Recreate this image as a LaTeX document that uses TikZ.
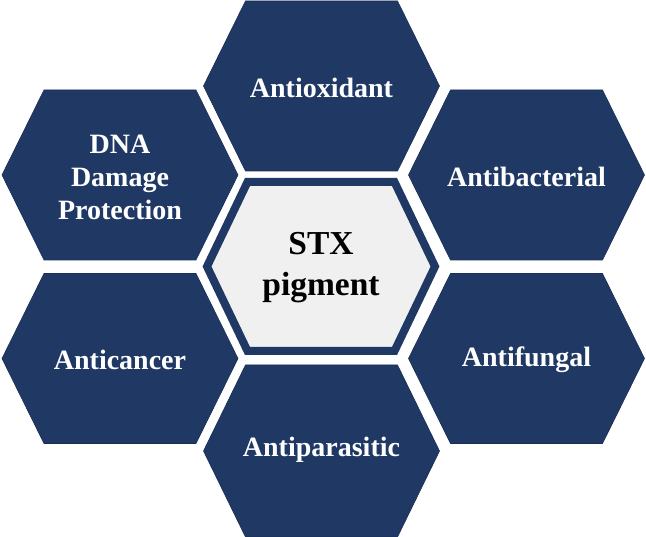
\documentclass[tikz,border=0pt]{standalone}
\usepackage{fontspec}
\setmainfont{Liberation Serif}
\definecolor{navy}{HTML}{1F3864}
\definecolor{navyedge}{HTML}{1A2F55}
\definecolor{lightfill}{HTML}{F0F0F0}
\tikzset{
  hexfill/.style={fill=navy, draw=navyedge, line width=0.6pt, line join=miter},
  hexcenter/.style={fill=lightfill, draw=navy, line width=8pt, line join=miter},
  hexlabel/.style={text=white, font=\bfseries\fontsize{28}{33}\selectfont, align=center, inner sep=0pt},
  centerlabel/.style={text=black, font=\bfseries\fontsize{33.5}{41}\selectfont, align=center, inner sep=0pt}
}
\newcommand{\hexpath}[5]{% x, y, halfwidth, halfheight, slant
  (#1-#3,#2) -- (#1-#3+#5,#2-#4) -- (#1+#3-#5,#2-#4) -- (#1+#3,#2) -- (#1+#3-#5,#2+#4) -- (#1-#3+#5,#2+#4) -- cycle}
\begin{document}
\begin{tikzpicture}[x=1pt,y=-1pt]
\useasboundingbox (0,0) rectangle (646,537);
% outer hexagons
\draw[hexfill] \hexpath{321.5}{86}{118}{85}{42};
\draw[hexfill] \hexpath{120}{175}{118}{85}{42};
\draw[hexfill] \hexpath{526.5}{175}{118}{85}{42};
\draw[hexfill] \hexpath{120}{358.5}{118}{85}{42};
\draw[hexfill] \hexpath{526.5}{358.5}{118}{85}{42};
\draw[hexfill] \hexpath{321.5}{451}{118}{86}{42};
% center hexagon
\draw[hexcenter] \hexpath{321}{266.5}{114}{84.5}{40.5};
% labels
\node[hexlabel] (antiox) at (321.5,88) {Antioxidant};
\node[hexlabel] (dna) at (120,177) {DNA\\Damage\\Protection};
\node[hexlabel] (antibac) at (526.5,177) {Antibacterial};
\node[centerlabel] (stx) at (321,268) {STX\\pigment};
\node[hexlabel] (anticancer) at (120,360) {Anticancer};
\node[hexlabel] (antifungal) at (526.5,360) {Antifungal};
\node[hexlabel] (antipara) at (321.5,450) {Antiparasitic};
\end{tikzpicture}
\end{document}
